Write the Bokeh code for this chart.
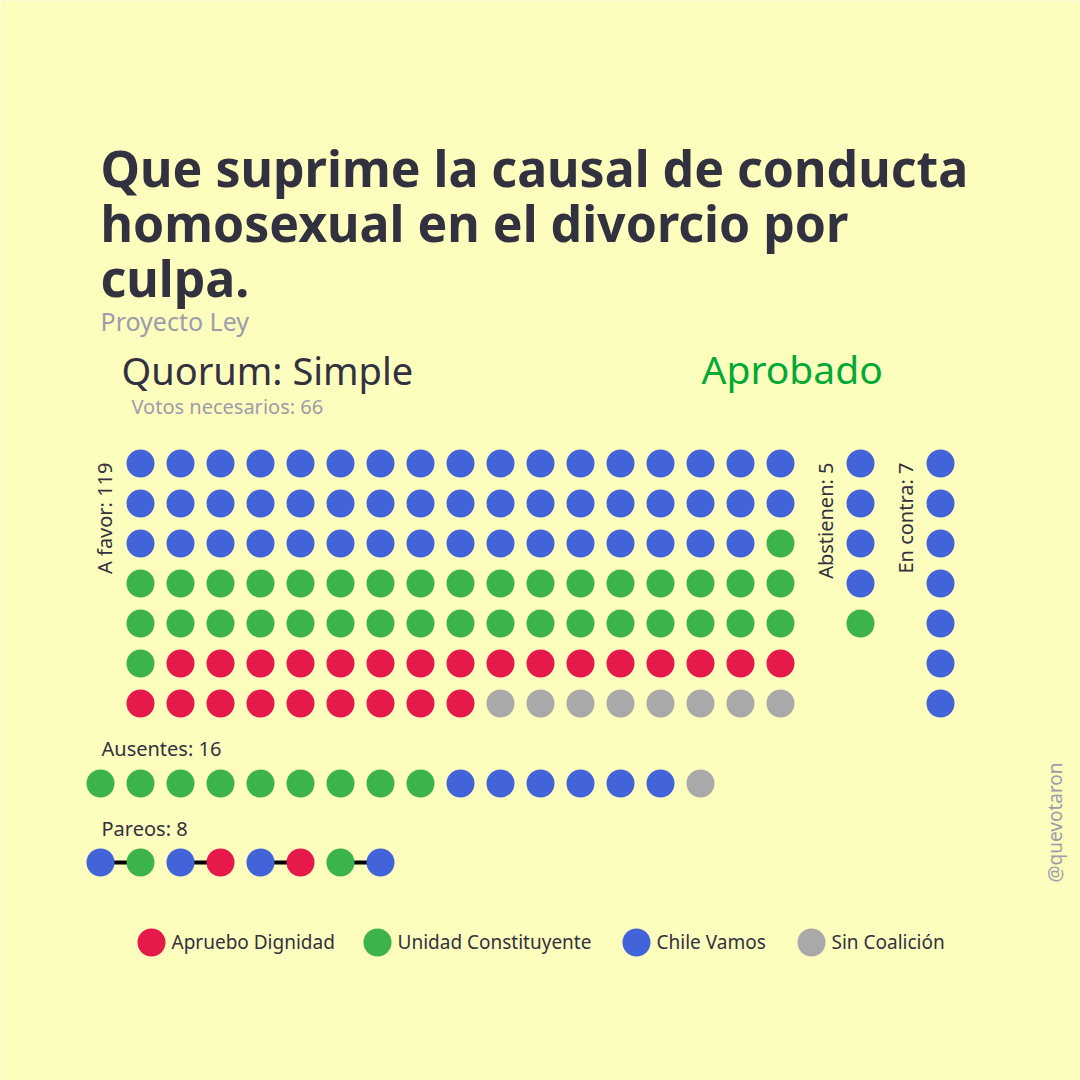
"""Votación: causal de conducta homosexual en el divorcio."""
import math

from bokeh.core.properties import value
from bokeh.embed import file_html
from bokeh.models import Range1d
from bokeh.plotting import figure
from bokeh.resources import INLINE

# --- datos ---
coaliciones = ["Apruebo Dignidad", "Unidad Constituyente", "Chile Vamos", "Sin Coalición"]
colores = ["#e6194b", "#3cb44b", "#4363d8", "#a9a9a9"]

a_favor = [("Chile Vamos", 50), ("Unidad Constituyente", 36), ("Apruebo Dignidad", 25), ("Sin Coalición", 8)]
abstienen = [("Chile Vamos", 4), ("Unidad Constituyente", 1)]
en_contra = [("Chile Vamos", 7)]
ausentes = [("Unidad Constituyente", 9), ("Chile Vamos", 6), ("Sin Coalición", 1)]
pareos = [
    ("Chile Vamos", "Unidad Constituyente"),
    ("Chile Vamos", "Apruebo Dignidad"),
    ("Chile Vamos", "Apruebo Dignidad"),
    ("Unidad Constituyente", "Chile Vamos"),
]

titulo = ["Que suprime la causal de conducta", "homosexual en el divorcio por", "culpa."]
tipo = "Proyecto Ley"
quorum = "Simple"
votos_necesarios = 66
resultado = "Aprobado"
firma = "@quevotaron"

# --- estilo ---
FONDO = "#fdfdbd"
TEXTO = "#32313f"
GRIS = "#9c9cab"
VERDE = "#00aa33"
FUENTE = value("Noto Sans")
PASO = 40
COLUMNAS = 17
DOT = 28
LADO = 1080

color_de = dict(zip(coaliciones, colores))


def expandir(grupos):
    """(coalición, n) -> lista de coaliciones."""
    return [c for c, n in grupos for _ in range(n)]


p = figure(
    width=LADO,
    height=LADO,
    x_range=Range1d(0, LADO),
    y_range=Range1d(LADO, 0),
    output_backend="svg",
    toolbar_location=None,
    min_border=0,
    background_fill_color=FONDO,
    border_fill_color=FONDO,
    outline_line_color=None,
)
p.axis.visible = False
p.grid.visible = False


def puntos(xs, ys, nombres):
    p.scatter(xs, ys, size=DOT, marker="circle", line_color=None, fill_color=[color_de[c] for c in nombres])


def texto(x, y, t, size, color=TEXTO, bold=False, align="left", angle=0.0):
    p.text(
        x=[x], y=[y], text=[t], angle=angle,
        text_font=FUENTE, text_font_size=value(f"{size}px"),
        text_font_style="bold" if bold else "normal",
        text_color=color, text_align=align, text_baseline="middle",
    )


# a favor: rejilla de 17 columnas
fav = expandir(a_favor)
puntos([140 + (i % COLUMNAS) * PASO for i in range(len(fav))],
       [463 + (i // COLUMNAS) * PASO for i in range(len(fav))], fav)

# abstienen / en contra: columnas
abs_ = expandir(abstienen)
puntos([860] * len(abs_), [463 + i * PASO for i in range(len(abs_))], abs_)
con = expandir(en_contra)
puntos([940] * len(con), [463 + i * PASO for i in range(len(con))], con)

# ausentes
aus = expandir(ausentes)
puntos([100 + i * PASO for i in range(len(aus))], [783] * len(aus), aus)

# pareos
par = [c for par_ in pareos for c in par_]
px = [100 + i * PASO for i in range(len(par))]
p.segment(x0=px[0::2], y0=[862] * len(pareos), x1=px[1::2], y1=[862] * len(pareos),
          line_color="black", line_width=4)
puntos(px, [862] * len(par), par)

# textos
for i, linea in enumerate(titulo):
    texto(100, 167 + i * 55, linea, 50, bold=True)
texto(100, 320, tipo, 25, color=GRIS)
texto(121, 369, f"Quorum: {quorum}", 38)
texto(131, 406, f"Votos necesarios: {votos_necesarios}", 20, color=GRIS)
texto(701, 368, resultado, 39, color=VERDE)

texto(104, 462, f"A favor: {len(fav)}", 20, align="right", angle=math.pi / 2)
texto(825, 462, f"Abstienen: {len(abs_)}", 20, align="right", angle=math.pi / 2)
texto(905, 462, f"En contra: {len(con)}", 20, align="right", angle=math.pi / 2)
texto(101, 748, f"Ausentes: {len(aus)}", 20)
texto(101, 828, f"Pareos: {len(par)}", 20)
texto(1054, 822, firma, 19, color=GRIS, align="center", angle=math.pi / 2)

# leyenda
leyenda_x = [151, 377, 636, 811]
puntos(leyenda_x, [942] * len(coaliciones), coaliciones)
for x, nombre in zip(leyenda_x, coaliciones):
    texto(x + 20, 941, nombre, 19)

open("out.html", "w").write(file_html(p, INLINE))
